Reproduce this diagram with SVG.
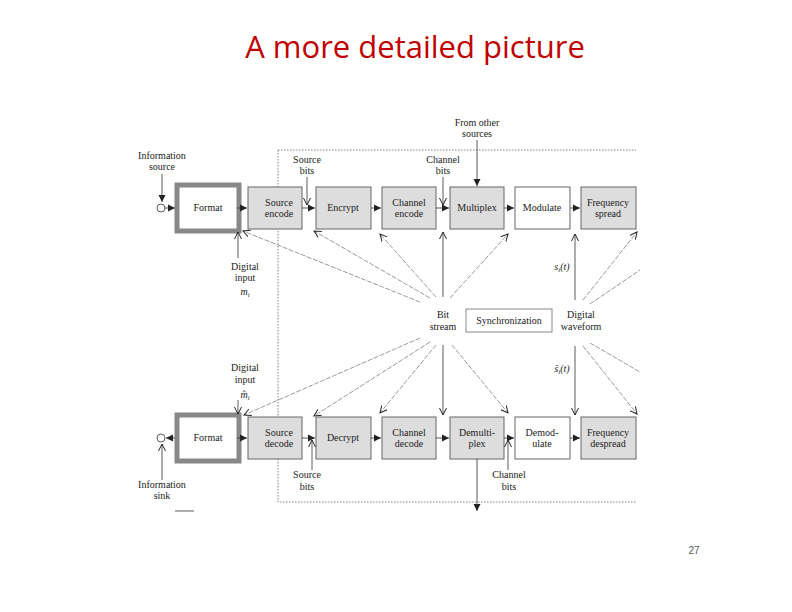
<svg xmlns="http://www.w3.org/2000/svg" width="792" height="612" viewBox="0 0 792 612">
<defs>
<marker id="a" markerWidth="8" markerHeight="8" refX="7" refY="4" orient="auto" markerUnits="userSpaceOnUse"><path d="M0,0.5 L7,4 L0,7.5 Z" fill="#222"/></marker>
<marker id="o" markerWidth="8" markerHeight="8" refX="7" refY="4" orient="auto" markerUnits="userSpaceOnUse"><path d="M0,0.5 L7,4 L0,7.5" fill="none" stroke="#222" stroke-width="1"/></marker>
</defs>
<style>
text{font-family:"Liberation Serif",serif;font-size:10px;fill:#222;text-anchor:middle}
.g{fill:#ddd;stroke:#666;stroke-width:1}
.w{fill:#fff;stroke:#666;stroke-width:1}
.l{stroke:#333;stroke-width:0.8;fill:none}
.t{stroke:#333;stroke-width:0.8;fill:none;marker-end:url(#a)}
.d{stroke:#555;stroke-width:0.6;fill:none;marker-end:url(#o);stroke-dasharray:5,1.5}
</style>
<rect width="792" height="612" fill="#fff"/>
<text x="415" y="58" style="font-family:'Open Sans',sans-serif;font-size:31px;fill:#c00000">A more detailed picture</text>
<text x="694" y="554" style="font-family:'Liberation Sans',sans-serif;font-size:10px;fill:#555">27</text>
<g id="frame"><path d="M278,150 H636 M278,150 V502 H636" fill="none" stroke="#666" stroke-width="0.8" stroke-dasharray="1.5,1.5"/></g>
<g id="top">
<g id="fmt1"><rect x="177" y="185" width="62" height="46" fill="#fff" stroke="#888" stroke-width="5"/><text x="208" y="211">Format</text></g>
<g id="se"><rect class="g" x="248" y="187" width="54" height="42"/><text x="279" y="206">Source</text><text x="279" y="217">encode</text></g>
<g id="enc"><rect class="g" x="316" y="187" width="55" height="42"/><text x="343" y="211">Encrypt</text></g>
<g id="ce"><rect class="g" x="382" y="187" width="54" height="42"/><text x="409" y="206">Channel</text><text x="409" y="217">encode</text></g>
<g id="mux"><rect class="g" x="450" y="187" width="54" height="42"/><text x="477" y="211">Multiplex</text></g>
<g id="mod"><rect class="w" x="515" y="187" width="55" height="42"/><text x="542" y="211">Modulate</text></g>
<g id="fs"><rect class="g" x="581" y="187" width="55" height="42"/><text x="608" y="206">Frequency</text><text x="608" y="217">spread</text></g>
</g>
<g id="bottom">
<g id="fmt2"><rect x="177" y="415" width="62" height="46" fill="#fff" stroke="#888" stroke-width="5"/><text x="208" y="441">Format</text></g>
<g id="sd"><rect class="g" x="248" y="417" width="54" height="42"/><text x="279" y="436">Source</text><text x="279" y="447">decode</text></g>
<g id="dec"><rect class="g" x="316" y="417" width="55" height="42"/><text x="343" y="441">Decrypt</text></g>
<g id="cd"><rect class="g" x="382" y="417" width="54" height="42"/><text x="409" y="436">Channel</text><text x="409" y="447">decode</text></g>
<g id="dmx"><rect class="g" x="450" y="417" width="54" height="42"/><text x="477" y="436">Demulti-</text><text x="477" y="447">plex</text></g>
<g id="dem"><rect class="w" x="515" y="417" width="55" height="42"/><text x="542" y="436">Demod-</text><text x="542" y="447">ulate</text></g>
<g id="fd"><rect class="g" x="581" y="417" width="55" height="42"/><text x="608" y="436">Frequency</text><text x="608" y="447">despread</text></g>
</g>
<g id="sync"><rect x="466" y="309" width="86" height="23" fill="#fff" stroke="#888" stroke-width="1"/><text x="509" y="324">Synchronization</text></g>
<g id="labels">
<text x="162" y="159">Information</text><text x="162" y="170">source</text>
<text x="162" y="488">Information</text><text x="162" y="499">sink</text>
<text x="307" y="163">Source</text><text x="307" y="174">bits</text>
<text x="443" y="163">Channel</text><text x="443" y="174">bits</text>
<text x="477" y="126">From other</text><text x="477" y="137">sources</text>
<text x="245" y="270">Digital</text><text x="245" y="281">input</text><text x="245" y="295" font-style="italic">m<tspan font-size="7" dy="2">i</tspan></text>
<text x="245" y="371">Digital</text><text x="245" y="383">input</text><text x="245" y="398" font-style="italic">m̂<tspan font-size="7" dy="2">i</tspan></text>
<text x="443" y="318">Bit</text><text x="443" y="330">stream</text>
<text x="581" y="318">Digital</text><text x="581" y="330">waveform</text>
<text x="562" y="270" font-style="italic">s<tspan font-size="7" dy="2">i</tspan><tspan dy="-2">(t)</tspan></text>
<text x="562" y="372" font-style="italic">ŝ<tspan font-size="7" dy="2">i</tspan><tspan dy="-2">(t)</tspan></text>
<text x="307" y="478">Source</text><text x="307" y="490">bits</text>
<text x="509" y="478">Channel</text><text x="509" y="490">bits</text>
</g>
<g id="connectors">
<circle cx="161" cy="208" r="4" fill="#fff" stroke="#333" stroke-width="0.8"/>
<circle cx="161" cy="438" r="4" fill="#fff" stroke="#333" stroke-width="0.8"/>
<line class="t" x1="162" y1="174" x2="162" y2="202"/>
<line class="t" x1="165" y1="208" x2="175" y2="208"/>
<line class="t" x1="237" y1="208" x2="247" y2="208"/>
<line class="t" x1="302" y1="208" x2="315" y2="208"/>
<line class="t" x1="371" y1="208" x2="381" y2="208"/>
<line class="t" x1="436" y1="208" x2="449" y2="208"/>
<line class="t" x1="504" y1="208" x2="514" y2="208"/>
<line class="t" x1="570" y1="208" x2="580" y2="208"/>
<line class="l" x1="307" y1="177" x2="307" y2="205" style="marker-end:url(#o)"/>
<line class="l" x1="443" y1="177" x2="443" y2="205" style="marker-end:url(#o)"/>
<line class="t" x1="477" y1="140" x2="477" y2="186"/>
<line class="l" x1="238" y1="258" x2="238" y2="232" style="marker-end:url(#o)"/>
<line class="t" x1="175" y1="438" x2="166" y2="438"/>
<line class="t" x1="237" y1="438" x2="247" y2="438"/>
<line class="t" x1="302" y1="438" x2="315" y2="438"/>
<line class="t" x1="371" y1="438" x2="381" y2="438"/>
<line class="t" x1="436" y1="438" x2="449" y2="438"/>
<line class="t" x1="504" y1="438" x2="514" y2="438"/>
<line class="t" x1="570" y1="438" x2="580" y2="438"/>
<line class="l" x1="162" y1="480" x2="162" y2="444" style="marker-end:url(#o)"/>
<line class="l" x1="312" y1="470" x2="312" y2="440" style="marker-end:url(#o)"/>
<line class="l" x1="508" y1="470" x2="508" y2="440" style="marker-end:url(#o)"/>
<line class="l" x1="238" y1="400" x2="238" y2="414" style="marker-end:url(#o)"/>
<line class="t" x1="477" y1="459" x2="477" y2="511" stroke="#999"/>
<line class="l" x1="175" y1="511" x2="194" y2="511" stroke="#999"/>
<line class="d" x1="420" y1="302" x2="243" y2="231"/>
<line class="d" x1="430" y1="298" x2="314" y2="231"/>
<line class="d" x1="436" y1="297" x2="380" y2="234"/>
<line class="l" x1="443" y1="297" x2="443" y2="232" style="marker-end:url(#o)"/>
<line class="d" x1="450" y1="298" x2="508" y2="234"/>
<line class="l" x1="575" y1="300" x2="575" y2="234" style="marker-end:url(#o)"/>
<line class="d" x1="583" y1="300" x2="637" y2="232"/>
<line class="d" x1="590" y1="304" x2="640" y2="270" style="marker-end:none"/>
<line class="d" x1="420" y1="338" x2="244" y2="415"/>
<line class="d" x1="430" y1="342" x2="314" y2="416"/>
<line class="d" x1="436" y1="345" x2="380" y2="413"/>
<line class="l" x1="443" y1="345" x2="443" y2="415" style="marker-end:url(#o)"/>
<line class="d" x1="452" y1="345" x2="508" y2="413"/>
<line class="l" x1="575" y1="346" x2="575" y2="415" style="marker-end:url(#o)"/>
<line class="d" x1="583" y1="346" x2="637" y2="414"/>
<line class="d" x1="590" y1="343" x2="640" y2="372" style="marker-end:none"/>
</g>
</svg>
